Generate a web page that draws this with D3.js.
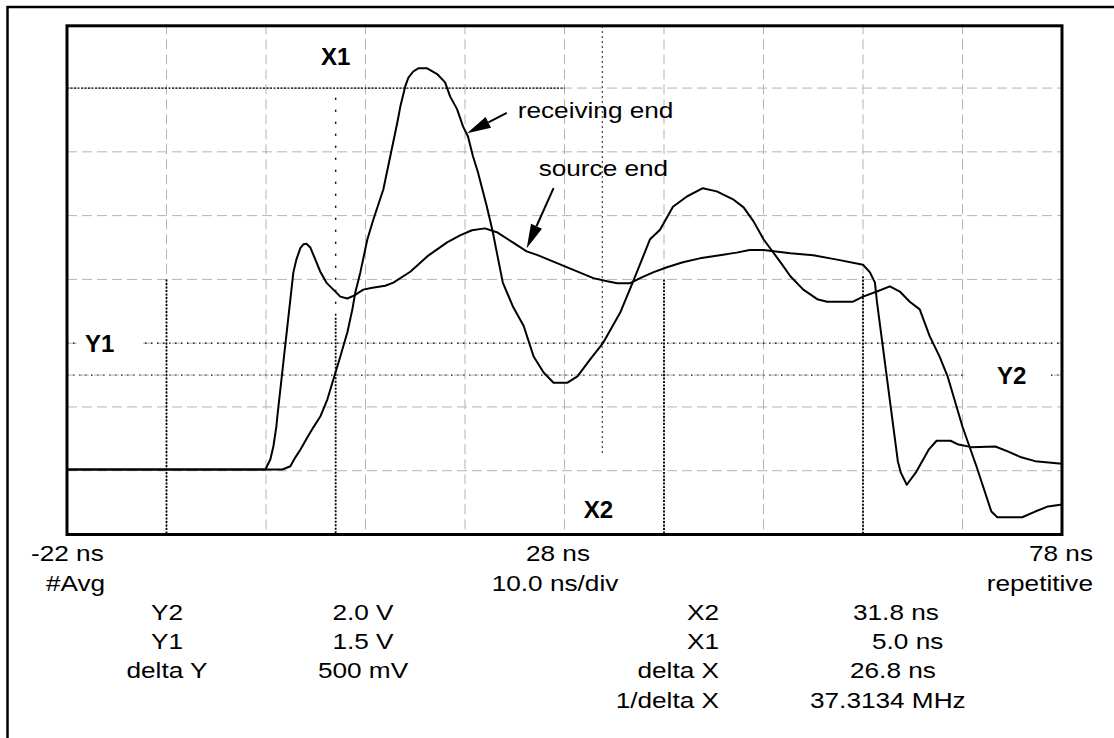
<!DOCTYPE html>
<html><head><meta charset="utf-8">
<script src="https://cdn.jsdelivr.net/npm/d3@7"></script>
<style>
html,body{margin:0;padding:0;background:#fff;}
svg{display:block;}
text{font-family:"Liberation Sans", Arial, Helvetica, sans-serif; fill:#000;}
</style></head><body>
<svg id="chart" width="1114" height="738"></svg>
<script>
// ---------------- data ----------------
const timeDomain = [-22, 78];          // ns, 10 ns/div
const voltDomain = [-1, 7];            // screen divisions (1 per div)
const gridTimes = [-12, -2, 8, 18, 28, 38, 48, 58, 68];
const gridVolts = [0, 1, 2, 3, 4, 5, 6];

const receivingT = [-22, -0.35, 0.45, 0.95, 1.45, 2.15, 2.76, 3.46, 4.17, 4.77, 5.47, 6.18, 6.68, 6.98, 7.48, 8.19, 8.79, 9.79, 11.2, 11.5, 12.0, 12.3, 12.8, 13.3, 14.2, 15.2, 16.0, 16.5, 17.2, 17.8, 18.3, 18.8, 19.3, 20.2, 20.8, 21.2, 21.8, 22.8, 23.9, 24.9, 25.9, 26.9, 28.3, 29.3, 30.6, 31.9, 33.6, 34.9, 36.6, 37.6, 38.9, 40.3, 41.9, 43.3, 45.0, 46.0, 47.0, 48.0, 49.7, 50.7, 52.0, 53.4, 54.4, 57.0, 58.0, 59.4, 60.7, 61.7, 62.7, 63.7, 64.7, 65.7, 66.5, 68.0, 69.4, 70.9, 71.5, 74.0, 75.3, 76.6, 78.0];
const receivingV = [0.02, 0.02, 0.07, 0.21, 0.33, 0.52, 0.68, 0.85, 1.12, 1.43, 1.79, 2.17, 2.53, 2.80, 3.11, 3.63, 3.94, 4.41, 5.46, 5.71, 6.03, 6.16, 6.26, 6.31, 6.31, 6.22, 6.09, 5.87, 5.67, 5.40, 5.24, 4.93, 4.68, 4.14, 3.74, 3.42, 2.95, 2.58, 2.27, 1.79, 1.54, 1.38, 1.38, 1.48, 1.75, 2.01, 2.48, 2.97, 3.63, 3.78, 4.14, 4.30, 4.43, 4.38, 4.25, 4.13, 3.91, 3.63, 3.27, 3.05, 2.84, 2.69, 2.65, 2.65, 2.73, 2.81, 2.89, 2.81, 2.65, 2.53, 2.11, 1.79, 1.48, 0.69, 0.07, -0.64, -0.73, -0.73, -0.64, -0.56, -0.53];

const sourceT = [-22, -2.06, -1.56, -1.26, -0.96, -0.86, 0.75, 1.05, 1.45, 1.76, 2.06, 2.46, 2.96, 3.46, 4.07, 4.77, 5.47, 6.18, 6.88, 7.78, 8.69, 9.99, 10.8, 12.5, 14.2, 16.2, 17.5, 18.7, 20.0, 21.2, 22.8, 24.2, 25.3, 30.9, 32.3, 33.3, 34.6, 35.6, 36.9, 38.3, 39.9, 41.6, 43.6, 45.3, 46.6, 48.0, 50.7, 53.0, 55.4, 58.0, 58.7, 59.2, 59.4, 61.5, 61.8, 62.4, 63.3, 64.6, 65.4, 66.8, 67.6, 68.9, 71.3, 72.6, 73.9, 75.3, 78.0];
const sourceV = [0.02, 0.02, 0.18, 0.38, 0.69, 0.85, 3.11, 3.31, 3.49, 3.55, 3.56, 3.50, 3.31, 3.12, 2.95, 2.84, 2.73, 2.70, 2.75, 2.84, 2.87, 2.90, 2.95, 3.12, 3.36, 3.58, 3.69, 3.77, 3.80, 3.74, 3.58, 3.44, 3.38, 3.02, 2.97, 2.94, 2.94, 3.02, 3.11, 3.19, 3.27, 3.33, 3.38, 3.42, 3.46, 3.46, 3.41, 3.38, 3.31, 3.23, 3.11, 2.95, 2.65, 0.15, -0.03, -0.22, -0.03, 0.33, 0.47, 0.47, 0.41, 0.37, 0.38, 0.30, 0.21, 0.15, 0.11];

const traceNames = ["receiving end", "source end"];
const xTickLabels = ["-22 ns", "28 ns", "78 ns"];
const statusLabels = ["#Avg", "10.0 ns/div", "repetitive"];
const yCursorNames = ["Y2", "Y1", "delta Y"];
const yCursorValues = ["2.0 V", "1.5 V", "500 mV"];
const xCursorNames = ["X2", "X1", "delta X", "1/delta X"];
const xCursorValues = ["31.8 ns", "5.0 ns", "26.8 ns", "37.3134 MHz"];
const cursorX = {X1: 5.0, X2: 31.8};        // ns
const cursorY = {Y1: 2.0, Y2: 1.5};         // screen level
const peakMarkerLevel = 6.0, peakMarkerEnd = 28;
const markerTimes = [-12, 38, 58];
const markerTops = [3.0, 3.0, 3.05];

// ---------------- layout ----------------
const svg = d3.select("#chart");
const L = 67, R = 1062, T = 24.3, B = 534.5;
const x = d3.scaleLinear().domain(timeDomain).range([L, R]);
const y = d3.scaleLinear().domain(voltDomain).range([B, T]);
const SX = 1.19, FS = 22;

function label(g, px, py, s, anchor, size, weight, sx) {
  return g.append("text")
    .attr("transform", `translate(${px},${py}) scale(${sx},1)`)
    .attr("text-anchor", anchor)
    .style("font-size", size + "px")
    .style("font-weight", weight)
    .text(s);
}

// outer frame (top & left)
svg.append("line").attr("x1", 7).attr("x2", 1114).attr("y1", 7).attr("y2", 7)
  .attr("stroke", "#000").attr("stroke-width", 2.5);
svg.append("line").attr("x1", 7.5).attr("x2", 7.5).attr("y1", 6).attr("y2", 738)
  .attr("stroke", "#000").attr("stroke-width", 2.5);

const plot = svg.append("g");
// grid
plot.selectAll("line.vg").data(gridTimes).join("line")
  .attr("x1", d => x(d)).attr("x2", d => x(d)).attr("y1", T).attr("y2", B)
  .attr("stroke", "#b3b3b3").attr("stroke-width", 1).attr("stroke-dasharray", "10,5");
plot.selectAll("line.hg").data(gridVolts).join("line")
  .attr("x1", L).attr("x2", R).attr("y1", d => y(d)).attr("y2", d => y(d))
  .attr("stroke", "#b3b3b3").attr("stroke-width", 1).attr("stroke-dasharray", "10,5");

// cursor / marker lines
const dotted = (x1, y1, x2, y2, dash, w) => plot.append("line")
  .attr("x1", x1).attr("y1", y1).attr("x2", x2).attr("y2", y2)
  .attr("stroke", "#000").attr("stroke-width", w).attr("stroke-dasharray", dash);

dotted(x(timeDomain[0]), y(peakMarkerLevel), x(peakMarkerEnd), y(peakMarkerLevel), "2,1.5", 1.3);
dotted(L, y(cursorY.Y1), R, y(cursorY.Y1), "1.5,4.5", 1.3);
dotted(L, y(cursorY.Y2), R, y(cursorY.Y2), "1.5,4.5", 1.3);
plot.append("line").attr("x1", L).attr("x2", R).attr("y1", y(cursorY.Y2)).attr("y2", y(cursorY.Y2))
  .attr("stroke", "#b3b3b3").attr("stroke-width", 1).attr("stroke-dasharray", "10,5").attr("stroke-dashoffset", 3);
markerTimes.forEach((t, i) => dotted(x(t), y(markerTops[i]), x(t), B, "2,1.5", 1.8));
dotted(x(cursorX.X1), y(5.85), x(cursorX.X1), y(2.4), "2,10", 1.5);
dotted(x(cursorX.X1), y(2.4), x(cursorX.X1), B, "2,1.5", 1.8);
dotted(x(cursorX.X2), T + 2, x(cursorX.X2), y(0.25), "1.5,3.5", 1.2);

// label knock-outs
plot.append("rect").attr("x", L + 10).attr("y", y(cursorY.Y1) - 6).attr("width", 66).attr("height", 12).attr("fill", "#fff");
plot.append("rect").attr("x", 965).attr("y", y(cursorY.Y2) - 6).attr("width", 84).attr("height", 12).attr("fill", "#fff");

// traces
const line = d3.line().x(d => x(d[0])).y(d => y(d[1])).curve(d3.curveLinear);
const recv = receivingT.map((t, i) => [t, receivingV[i]]);
const src = sourceT.map((t, i) => [t, sourceV[i]]);
plot.append("path").datum(src).attr("d", line).attr("fill", "none")
  .attr("stroke", "#000").attr("stroke-width", 2).attr("stroke-linejoin", "round");
plot.append("path").datum(recv).attr("d", line).attr("fill", "none")
  .attr("stroke", "#000").attr("stroke-width", 2).attr("stroke-linejoin", "round");

// border
plot.append("rect").attr("x", L).attr("y", T + 1.5).attr("width", R - L).attr("height", B - T - 1.5)
  .attr("fill", "none").attr("stroke", "#000").attr("stroke-width", 3);

// cursor labels (bold)
label(plot, x(cursorX.X1), 65, "X1", "middle", 24, "bold", 1.0);
label(plot, x(cursorX.X2) - 4, 518, "X2", "middle", 24, "bold", 1.0);
label(plot, 85, y(cursorY.Y1) + 9, "Y1", "start", 24, "bold", 1.0);
label(plot, 997, y(cursorY.Y2) + 9, "Y2", "start", 24, "bold", 1.0);

// annotation arrows
function arrow(t0, v0, t1, v1) {
  const x0 = x(t0), y0 = y(v0), x1 = x(t1), y1 = y(v1);
  const a = Math.atan2(y1 - y0, x1 - x0), len = 24, hw = 6;
  const bx = x1 - len * Math.cos(a), by = y1 - len * Math.sin(a);
  plot.append("line").attr("x1", x0).attr("y1", y0).attr("x2", bx).attr("y2", by)
    .attr("stroke", "#000").attr("stroke-width", 2);
  plot.append("path").attr("d",
    `M${x1},${y1}L${bx - hw * Math.sin(a)},${by + hw * Math.cos(a)}L${bx + hw * Math.sin(a)},${by - hw * Math.cos(a)}Z`)
    .attr("fill", "#000");
}
arrow(22.2, 5.61, 18.2, 5.29);
arrow(26.9, 4.43, 24.2, 3.49);
label(plot, x(23.3), y(5.53), traceNames[0], "start", FS, "normal", SX);
label(plot, x(25.4), y(4.62), traceNames[1], "start", FS, "normal", SX);

// bottom readouts
const txt = svg.append("g");
const rows = [561, 591, 620, 649, 678, 708];
label(txt, 31, rows[0], xTickLabels[0], "start", FS, "normal", SX);
label(txt, 558, rows[0], xTickLabels[1], "middle", FS, "normal", SX);
label(txt, 1093, rows[0], xTickLabels[2], "end", FS, "normal", SX);
label(txt, 46, rows[1], statusLabels[0], "start", FS, "normal", SX);
label(txt, 555, rows[1], statusLabels[1], "middle", FS, "normal", SX);
label(txt, 1093, rows[1], statusLabels[2], "end", FS, "normal", SX);
yCursorNames.forEach((n, i) => {
  label(txt, 167, rows[2 + i], n, "middle", FS, "normal", SX);
  label(txt, 363, rows[2 + i], yCursorValues[i], "middle", FS, "normal", SX);
});
const valStarts = [853, 872, 850, 810];
xCursorNames.forEach((n, i) => {
  label(txt, 719, rows[2 + i], n, "end", FS, "normal", SX);
  label(txt, valStarts[i], rows[2 + i], xCursorValues[i], "start", FS, "normal", SX);
});
</script>
</body></html>
